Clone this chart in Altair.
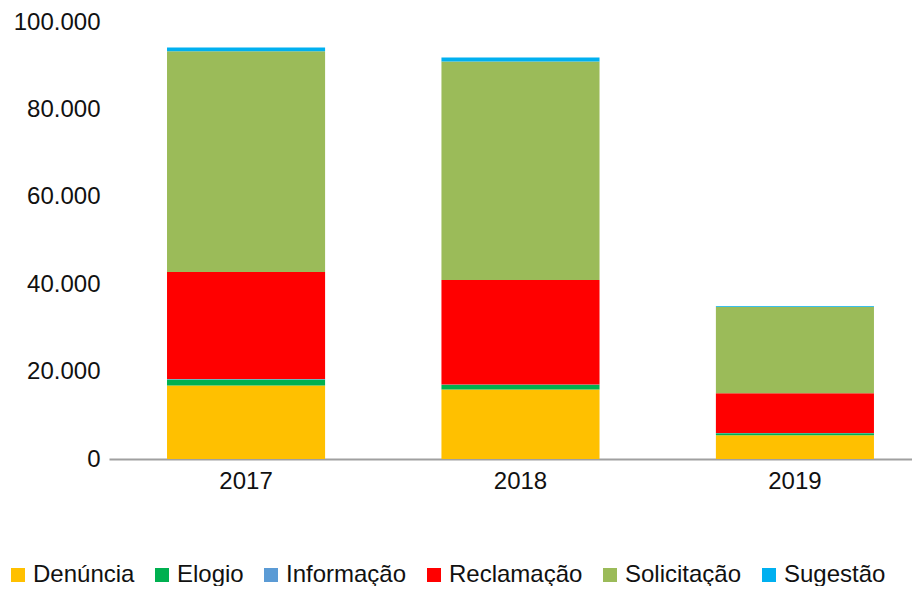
import altair as alt
import pandas as pd

years = ["2017", "2018", "2019"]
categories = ["Denúncia", "Elogio", "Informação", "Reclamação", "Solicitação", "Sugestão"]
colors = ["#FFC000", "#00B050", "#5B9BD5", "#FF0000", "#9BBB59", "#00B0F0"]
denuncia = [16800, 15900, 5450]
elogio = [1400, 1100, 450]
informacao = [80, 70, 30]
reclamacao = [24500, 23900, 9100]
solicitacao = [50500, 50000, 19800]
sugestao = [900, 900, 200]
y_ticks = [0, 20000, 40000, 60000, 80000, 100000]

series = [denuncia, elogio, informacao, reclamacao, solicitacao, sugestao]
rows = []
for ci, (cat, vals) in enumerate(zip(categories, series)):
    for yr, v in zip(years, vals):
        rows.append({"ano": yr, "tipo": cat, "valor": v, "ordem": ci})
df = pd.DataFrame(rows)

FONT = "Liberation Sans"

chart = (
    alt.Chart(df)
    .mark_bar()
    .encode(
        x=alt.X(
            "ano:N",
            title=None,
            scale=alt.Scale(paddingInner=0.424, paddingOuter=0.175, align=0.604),
            axis=alt.Axis(
                labelAngle=0,
                labelFontSize=24,
                labelFont=FONT,
                labelColor="#111111",
                labelPadding=10,
                ticks=False,
                domainColor="#A0A0A0",
                domainWidth=2,
                grid=False,
            ),
        ),
        y=alt.Y(
            "valor:Q",
            title=None,
            stack="zero",
            scale=alt.Scale(domain=[0, 100000], nice=False),
            axis=alt.Axis(
                values=y_ticks,
                labelExpr="replace(format(datum.value, ',d'), ',', '.')",
                labelFontSize=24,
                labelFont=FONT,
                labelColor="#111111",
                labelPadding=9,
                ticks=False,
                domain=False,
                grid=False,
            ),
        ),
        color=alt.Color(
            "tipo:N",
            scale=alt.Scale(domain=categories, range=colors),
            legend=alt.Legend(
                title=None,
                orient="none",
                legendX=-103,
                legendY=541,
                direction="horizontal",
                columns=6,
                symbolType="square",
                symbolSize=196,
                symbolStrokeWidth=0,
                labelFontSize=24,
                labelFont=FONT,
                labelColor="#111111",
                labelOffset=3,
                columnPadding=15,
                padding=0,
                labelLimit=300,
            ),
        ),
        order=alt.Order("ordem:Q", sort="ascending"),
    )
    .properties(
        width=803,
        height=437,
        padding={"left": 101, "top": 14, "right": 0, "bottom": 127},
        autosize=alt.AutoSizeParams(type="none"),
        background="white",
    )
    .configure_view(strokeWidth=0)
)

chart.save("out.html", embed_options={"renderer": "svg", "actions": False})
